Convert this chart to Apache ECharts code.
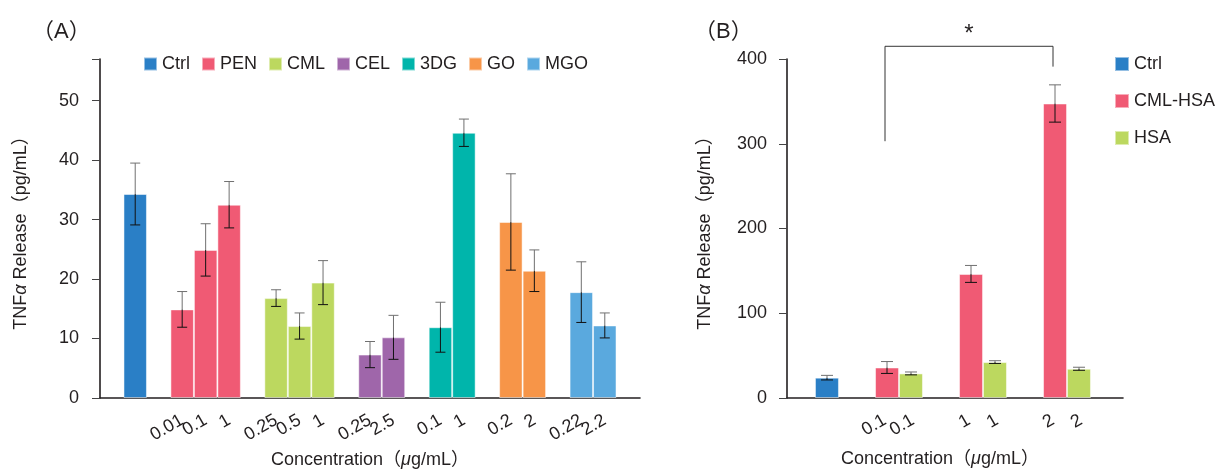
<!DOCTYPE html>
<html>
<head>
<meta charset="utf-8">
<title>TNFα release</title>
<script src="https://cdn.jsdelivr.net/npm/echarts@6/dist/echarts.min.js"></script>
<style>
  html, body { margin: 0; padding: 0; background: #fff; }
  #chart { width: 1219px; height: 472px; }
</style>
</head>
<body>
<div id="chart"></div>
<script>
// (A) groups, doses and values
const groupA = ['Ctrl', 'PEN', 'CML', 'CEL', '3DG', 'GO', 'MGO'];
const colorA = ['#2a7fc6', '#f05a74', '#bcd85f', '#9f66aa', '#00b5ab', '#f79548', '#5aa9de'];
const doseA = [[''], ['0.01', '0.1', '1'], ['0.25', '0.5', '1'], ['0.25', '2.5'], ['0.1', '1'], ['0.2', '2'], ['0.22', '2.2']];
const meanA = [[34.3], [14.9, 24.9, 32.5], [16.8, 12.1, 19.4], [7.3, 10.2], [11.9, 44.6], [29.6, 21.4], [17.8, 12.2]];
const sdA = [[5.2], [3.0, 4.4, 3.9], [1.4, 2.2, 3.7], [2.2, 3.7], [4.2, 2.3], [8.1, 3.5], [5.1, 2.1]];

// (B)
const groupB = ['Ctrl', 'CML-HSA', 'HSA'];
const colorB = ['#2a7fc6', '#f05a74', '#bcd85f'];
const doseB = ['0.1', '1', '2'];
const ctrlB = 24.0;
const ctrlSdB = 2.7;
const cmlB = [36.0, 146.4, 347.5];
const cmlSdB = [7.0, 10.0, 22.0];
const hsaB = [29.0, 42.4, 34.5];
const hsaSdB = [1.7, 1.6, 1.8];
// significance bracket: between CML-HSA doses, leg ends and top (pg/mL)
const sigDose = [0, 2];
const sigLegs = [303, 391];
const sigTop = 415;

const FONT = "'Liberation Sans', 'Noto Sans CJK JP', Arial, sans-serif";
const INK = '#231f20';
const FS = 18;

// build category slots for (A): blank slot between groups
const catA = [''];
const seriesDataA = groupA.map(() => []);
const errA = [];
doseA.forEach((doses, g) => {
  doses.forEach((lab, k) => {
    const idx = catA.length;
    catA.push(lab);
    seriesDataA[g][idx] = meanA[g][k];
    errA.push([idx, meanA[g][k] - sdA[g][k], meanA[g][k] + sdA[g][k], meanA[g][k]]);
  });
  catA.push('');
});
seriesDataA.forEach(arr => { for (let i = 0; i < catA.length; i++) if (arr[i] === undefined) arr[i] = null; });

// build (B): Ctrl slot, then CML-HSA / HSA pairs
const catB = ['', '', ''];
const seriesDataB = groupB.map(() => new Array(3).fill(null));
const errLeftB = [[1, ctrlB - ctrlSdB, ctrlB + ctrlSdB, ctrlB]];
const errRightB = [];
seriesDataB[0][1] = ctrlB;
const cmlIdx = [];
doseB.forEach((d, k) => {
  const i = catB.length;
  catB.push(d, d, '');
  seriesDataB.forEach(a => a.push(null, null, null));
  seriesDataB[1][i] = cmlB[k];
  seriesDataB[2][i + 1] = hsaB[k];
  cmlIdx.push(i);
  errRightB.push([i, cmlB[k] - cmlSdB[k], cmlB[k] + cmlSdB[k], cmlB[k]]);
  errLeftB.push([i + 1, hsaB[k] - hsaSdB[k], hsaB[k] + hsaSdB[k], hsaB[k]]);
});

function errorBars(cap, dx) {
  return function (params, api) {
    const x = api.value(0);
    const pLo = api.coord([x, api.value(1)]);
    const pHi = api.coord([x, api.value(2)]);
    const pM = api.coord([x, api.value(3)]);
    const cx = pM[0] + dx;
    const up = { stroke: '#707070', lineWidth: 1 };
    const dn = { stroke: '#111', lineWidth: 1 };
    return {
      type: 'group',
      children: [
        { type: 'line', shape: { x1: cx, y1: pHi[1], x2: cx, y2: pM[1] }, style: up },
        { type: 'line', shape: { x1: cx, y1: pM[1], x2: cx, y2: pLo[1] }, style: dn },
        { type: 'line', shape: { x1: cx - cap, y1: pHi[1], x2: cx + cap, y2: pHi[1] }, style: up },
        { type: 'line', shape: { x1: cx - cap, y1: pLo[1], x2: cx + cap, y2: pLo[1] }, style: dn }
      ]
    };
  };
}

const axisLine = { lineStyle: { color: INK, width: 1.6 } };
const axisTick = { length: 7, lineStyle: { color: '#444', width: 1 } };
const nameRich = {
  i: { fontStyle: 'italic', fontSize: FS, fontFamily: FONT, color: INK }
};
const titleStyle = { fontSize: 22, fontWeight: 'normal', color: INK, fontFamily: FONT };
const legendText = { fontSize: FS, color: INK, fontFamily: FONT };
const barBorder = 'rgba(255,255,255,0.5)';

const chart = echarts.init(document.getElementById('chart'));
chart.setOption({
  animation: false,
  textStyle: { fontFamily: FONT, color: INK },
  title: [
    { text: '（A）', left: 27, top: 16, textStyle: titleStyle },
    { text: '（B）', left: 689, top: 16, textStyle: titleStyle }
  ],
  legend: [
    {
      data: groupA, left: 138, top: 50, itemWidth: 13, itemHeight: 13, itemGap: 11, icon: 'rect',
      textStyle: legendText
    },
    {
      data: groupB, orient: 'vertical', left: 1109, top: 50, itemWidth: 14, itemHeight: 14, itemGap: 19, icon: 'rect',
      textStyle: legendText
    }
  ],
  grid: [
    { left: 100, top: 59, width: 540, bottom: 74, outerBoundsMode: 'none' },
    { left: 787, top: 59, width: 336, bottom: 74, outerBoundsMode: 'none' }
  ],
  xAxis: [
    {
      gridIndex: 0, type: 'category', data: catA,
      axisLine, axisTick: { ...axisTick, length: 7 },
      axisLabel: { interval: 0, rotate: 30, margin: 21, fontSize: FS, color: INK },
      name: 'Concentration（{i|μ}g/mL）', nameLocation: 'middle', nameGap: 52,
      nameTextStyle: { fontSize: FS, color: INK, rich: nameRich }
    },
    {
      gridIndex: 1, type: 'category', data: catB,
      axisLine, axisTick: { ...axisTick, length: 6 },
      axisLabel: { interval: 0, rotate: 30, margin: 21, fontSize: FS, color: INK },
      name: 'Concentration（{i|μ}g/mL）', nameLocation: 'middle', nameGap: 52,
      nameTextStyle: { fontSize: FS, color: INK, rich: nameRich, padding: [0, 30, 0, 0] }
    }
  ],
  yAxis: [
    {
      gridIndex: 0, type: 'value', min: 0, max: 57, interval: 10,
      axisLine: { show: true, ...axisLine }, axisTick: { show: true, ...axisTick, length: 8 },
      splitLine: { show: false },
      axisLabel: { fontSize: FS, color: INK, margin: 21, formatter: v => (v % 10 === 0 ? v : '') },
      name: 'TNF{i|α} Release（pg/mL）', nameLocation: 'middle', nameGap: 70,
      nameTextStyle: { fontSize: FS, color: INK, rich: nameRich }
    },
    {
      gridIndex: 1, type: 'value', min: 0, max: 400, interval: 100,
      axisLine: { show: true, ...axisLine }, axisTick: { show: true, ...axisTick, length: 8 },
      splitLine: { show: false },
      axisLabel: { fontSize: FS, color: INK, margin: 20 },
      name: 'TNF{i|α} Release（pg/mL）', nameLocation: 'middle', nameGap: 73,
      nameTextStyle: { fontSize: FS, color: INK, rich: nameRich }
    }
  ],
  series: [
    ...groupA.map((name, g) => ({
      name, type: 'bar', xAxisIndex: 0, yAxisIndex: 0, stack: 'a', barWidth: '100%',
      itemStyle: { color: colorA[g], borderColor: barBorder, borderWidth: 1 },
      data: seriesDataA[g]
    })),
    {
      type: 'custom', xAxisIndex: 0, yAxisIndex: 0, z: 5,
      renderItem: errorBars(5, 0), encode: { x: 0, y: [1, 2] }, data: errA
    },
    // B bars: Ctrl and HSA share the left-dodged stack, CML-HSA the right one,
    // so each CML-HSA / HSA pair meets at the tick between them
    {
      name: groupB[0], type: 'bar', xAxisIndex: 1, yAxisIndex: 1, stack: 'left', barWidth: 24, barGap: '-83%',
      itemStyle: { color: colorB[0], borderColor: barBorder, borderWidth: 1 },
      data: seriesDataB[0]
    },
    {
      name: groupB[1], type: 'bar', xAxisIndex: 1, yAxisIndex: 1, stack: 'right', barWidth: 24, barGap: '-83%',
      itemStyle: { color: colorB[1], borderColor: barBorder, borderWidth: 1 },
      data: seriesDataB[1]
    },
    {
      name: groupB[2], type: 'bar', xAxisIndex: 1, yAxisIndex: 1, stack: 'left', barWidth: 24, barGap: '-83%',
      itemStyle: { color: colorB[2], borderColor: barBorder, borderWidth: 1 },
      data: seriesDataB[2]
    },
    {
      type: 'custom', xAxisIndex: 1, yAxisIndex: 1, z: 5,
      renderItem: errorBars(6, -2), encode: { x: 0, y: [1, 2] }, data: errLeftB
    },
    {
      type: 'custom', xAxisIndex: 1, yAxisIndex: 1, z: 5,
      renderItem: errorBars(6, 2), encode: { x: 0, y: [1, 2] }, data: errRightB
    },
    {
      type: 'custom', xAxisIndex: 1, yAxisIndex: 1, z: 5, clip: false, silent: true,
      encode: { x: [0, 1], y: [2, 3, 4] },
      data: [[cmlIdx[sigDose[0]], cmlIdx[sigDose[1]], sigLegs[0], sigLegs[1], sigTop]],
      renderItem: function (params, api) {
        const x1 = api.value(0), x2 = api.value(1);
        const a = api.coord([x1, api.value(2)]);
        const b = api.coord([x2, api.value(3)]);
        const t1 = api.coord([x1, api.value(4)]);
        const t2 = api.coord([x2, api.value(4)]);
        return {
          type: 'group',
          children: [
            {
              type: 'polyline',
              shape: { points: [a, t1, t2, b] },
              style: { stroke: '#333', lineWidth: 1, fill: null }
            },
            {
              type: 'text',
              style: {
                text: '*', x: (t1[0] + t2[0]) / 2, y: t1[1] - 12,
                align: 'center', verticalAlign: 'middle',
                font: '24px ' + FONT, fill: INK
              }
            }
          ]
        };
      }
    }
  ]
});
</script>
</body>
</html>
